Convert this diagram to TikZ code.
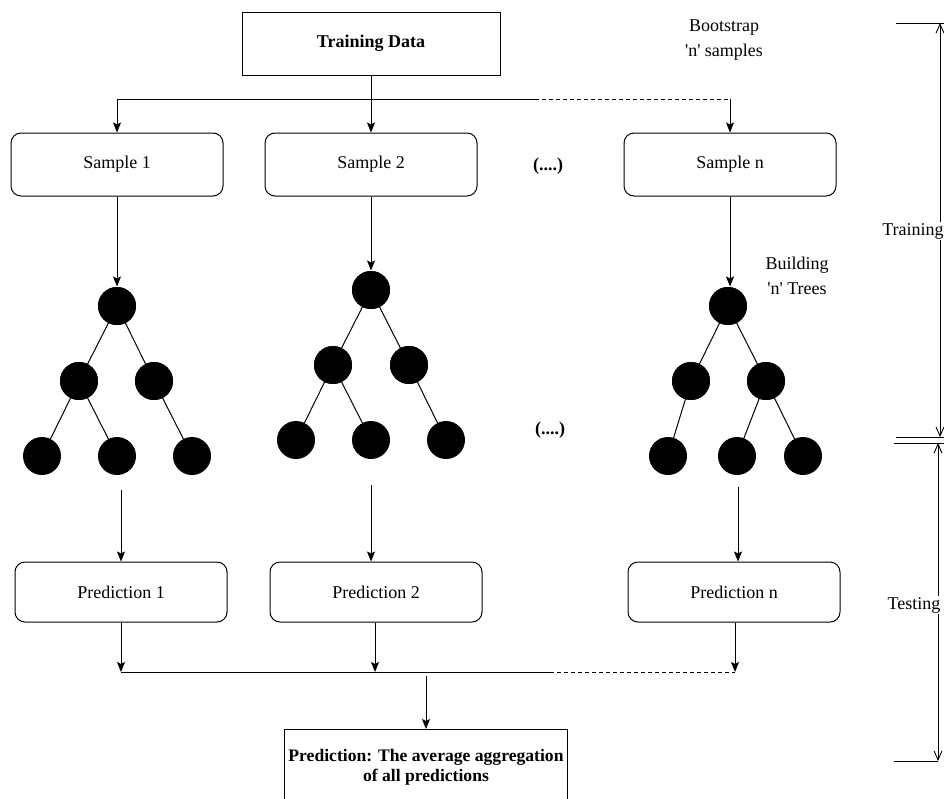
\documentclass[tikz,border=0pt]{standalone}
\usepackage{fontspec}
\setmainfont{Liberation Serif}
% same face without TeX ligatures, so that ' stays a straight quote
\newfontfamily\plainserif{Liberation Serif}
\usetikzlibrary{arrows.meta}

\begin{document}
\begin{tikzpicture}[x=1pt,y=-1pt,
  font=\fontsize{18}{20}\selectfont,
  line width=1pt,
  plainbox/.style={draw, rectangle, align=center, inner sep=0pt},
  roundbox/.style={draw, rectangle, rounded corners=10pt, minimum width=212pt, minimum height=63pt, inner sep=0pt},
  predbox/.style={roundbox, minimum height=60pt},
  leaf/.style={circle, fill=black, minimum size=38pt, inner sep=0pt},
  flow/.style={-{Stealth[length=10pt,width=8pt,inset=2pt]}},
  dim/.style={{Straight Barb[length=9pt,width=8pt]}-{Straight Barb[length=9pt,width=8pt]}, line width=0.9pt},
  note/.style={align=center, font=\fontsize{18}{25}\selectfont\plainserif},
  boldtext/.style={font=\fontsize{18}{20}\selectfont\bfseries}
]
\useasboundingbox (0,0) rectangle (944,798);

% ---- source data and bootstrap samples ----
\node[plainbox, minimum width=258pt, minimum height=63pt, boldtext] (td) at (371,43.5) {Training Data};
\node[note] (boot) at (724,40) {Bootstrap\\'n' samples};

\node[roundbox] (s1) at (117,164.5) {Sample 1};
\node[roundbox] (s2) at (371,164.5) {Sample 2};
\node[roundbox] (sn) at (730,164.5) {Sample n};
\node[boldtext] (dots1) at (548,166) {(....)};

\coordinate (bl) at (117,99);
\coordinate (bm) at (535,99);
\coordinate (br) at (730,99);

\draw (td.south) -- (td.south |- bl);
\draw (bl) -- (bm);
\draw[dashed, dash pattern=on 4pt off 3pt] (bm) -- (br);
\draw[flow] (bl) -- (s1.north);
\draw[flow] (td.south) -- (s2.north);
\draw[flow] (br) -- (sn.north);

% ---- tree 1 ----
\node[leaf] (a0) at (117,306) {};
\node[leaf] (a1) at (79,381) {};
\node[leaf] (a2) at (154,381) {};
\node[leaf] (a3) at (42,456) {};
\node[leaf] (a4) at (117,456) {};
\node[leaf] (a5) at (192,456) {};
\draw (a0.center) -- (a1.center) (a0.center) -- (a2.center)
      (a1.center) -- (a3.center) (a1.center) -- (a4.center)
      (a2.center) -- (a5.center);
\node[leaf] at (a0) {};
\node[leaf] at (a1) {};
\node[leaf] at (a2) {};

% ---- tree 2 ----
\node[leaf] (b0) at (371,290) {};
\node[leaf] (b1) at (333,365) {};
\node[leaf] (b2) at (409,365) {};
\node[leaf] (b3) at (296,440) {};
\node[leaf] (b4) at (371,440) {};
\node[leaf] (b5) at (446,440) {};
\draw (b0.center) -- (b1.center) (b0.center) -- (b2.center)
      (b1.center) -- (b3.center) (b1.center) -- (b4.center)
      (b2.center) -- (b5.center);
\node[leaf] at (b0) {};
\node[leaf] at (b1) {};
\node[leaf] at (b2) {};

% ---- tree n ----
\node[leaf] (c0) at (728,306) {};
\node[leaf] (c1) at (691,381) {};
\node[leaf] (c2) at (766,381) {};
\node[leaf] (c3) at (668,456) {};
\node[leaf] (c4) at (737,456) {};
\node[leaf] (c5) at (803,456) {};
\draw (c0.center) -- (c1.center) (c0.center) -- (c2.center)
      (c1.center) -- (c3.center) (c2.center) -- (c4.center)
      (c2.center) -- (c5.center);
\node[leaf] at (c0) {};
\node[leaf] at (c1) {};
\node[leaf] at (c2) {};

\node[note] (build) at (797,276) {Building\\'n' Trees};
\node[boldtext] (dots2) at (550,430) {(....)};

% samples feed the trees
\draw[flow] (s1.south) -- (a0.north);
\draw[flow] (s2.south) -- (b0.north);
\draw[flow] (sn.south) -- (sn.south |- c0.north);

% ---- predictions ----
\node[predbox] (p1) at (121,592) {Prediction 1};
\node[predbox] (p2) at (376,592) {Prediction 2};
\node[predbox] (pn) at (734,592) {Prediction n};

\coordinate (t1) at (121,490);
\coordinate (t2) at (371,485);
\coordinate (tn) at (738,487);
\draw[flow] (t1) -- (t1 |- p1.north);
\draw[flow] (t2) -- (t2 |- p2.north);
\draw[flow] (tn) -- (tn |- pn.north);

\coordinate (ml) at (121,672);
\coordinate (mm) at (375,672);
\coordinate (md) at (550,672);
\coordinate (mr) at (735,672);
\draw[flow] (p1.south) -- (ml);
\draw[flow] (p2.south -| mm) -- (mm);
\draw[flow] (pn.south -| mr) -- (mr);
\draw (ml) -- (md);
\draw[dashed, dash pattern=on 4pt off 3pt] (md) -- (mr);

% ---- final aggregation ----
\node[plainbox, minimum width=283pt, minimum height=76pt, anchor=north,
      font=\fontsize{17.6}{20}\selectfont\bfseries] (fin) at (426,729)
      {Prediction: The average aggregation\\of all predictions};
\coordinate (agg) at (426,676);
\draw[flow] (agg) -- (fin.north);

% ---- training / testing extents ----
\coordinate (k0) at (896,23);
\coordinate (k1) at (896,437);
\coordinate (k2) at (894,443);
\coordinate (k3) at (894,761);
\draw[line width=0.9pt] (k0) -- +(48,0);
\draw[line width=0.9pt] (k1) -- +(48,0);
\draw[line width=0.9pt] (k2) -- +(50,0);
\draw[line width=0.9pt] (k3) -- +(44,0);
\draw[dim] (940,23) -- (940,437);
\draw[dim] (938,443) -- (938,761);
\node[fill=white, inner sep=1pt] (trn) at (913,231) {Training};
\node[fill=white, inner sep=1pt] (tst) at (914,605) {Testing};
\end{tikzpicture}
\end{document}
